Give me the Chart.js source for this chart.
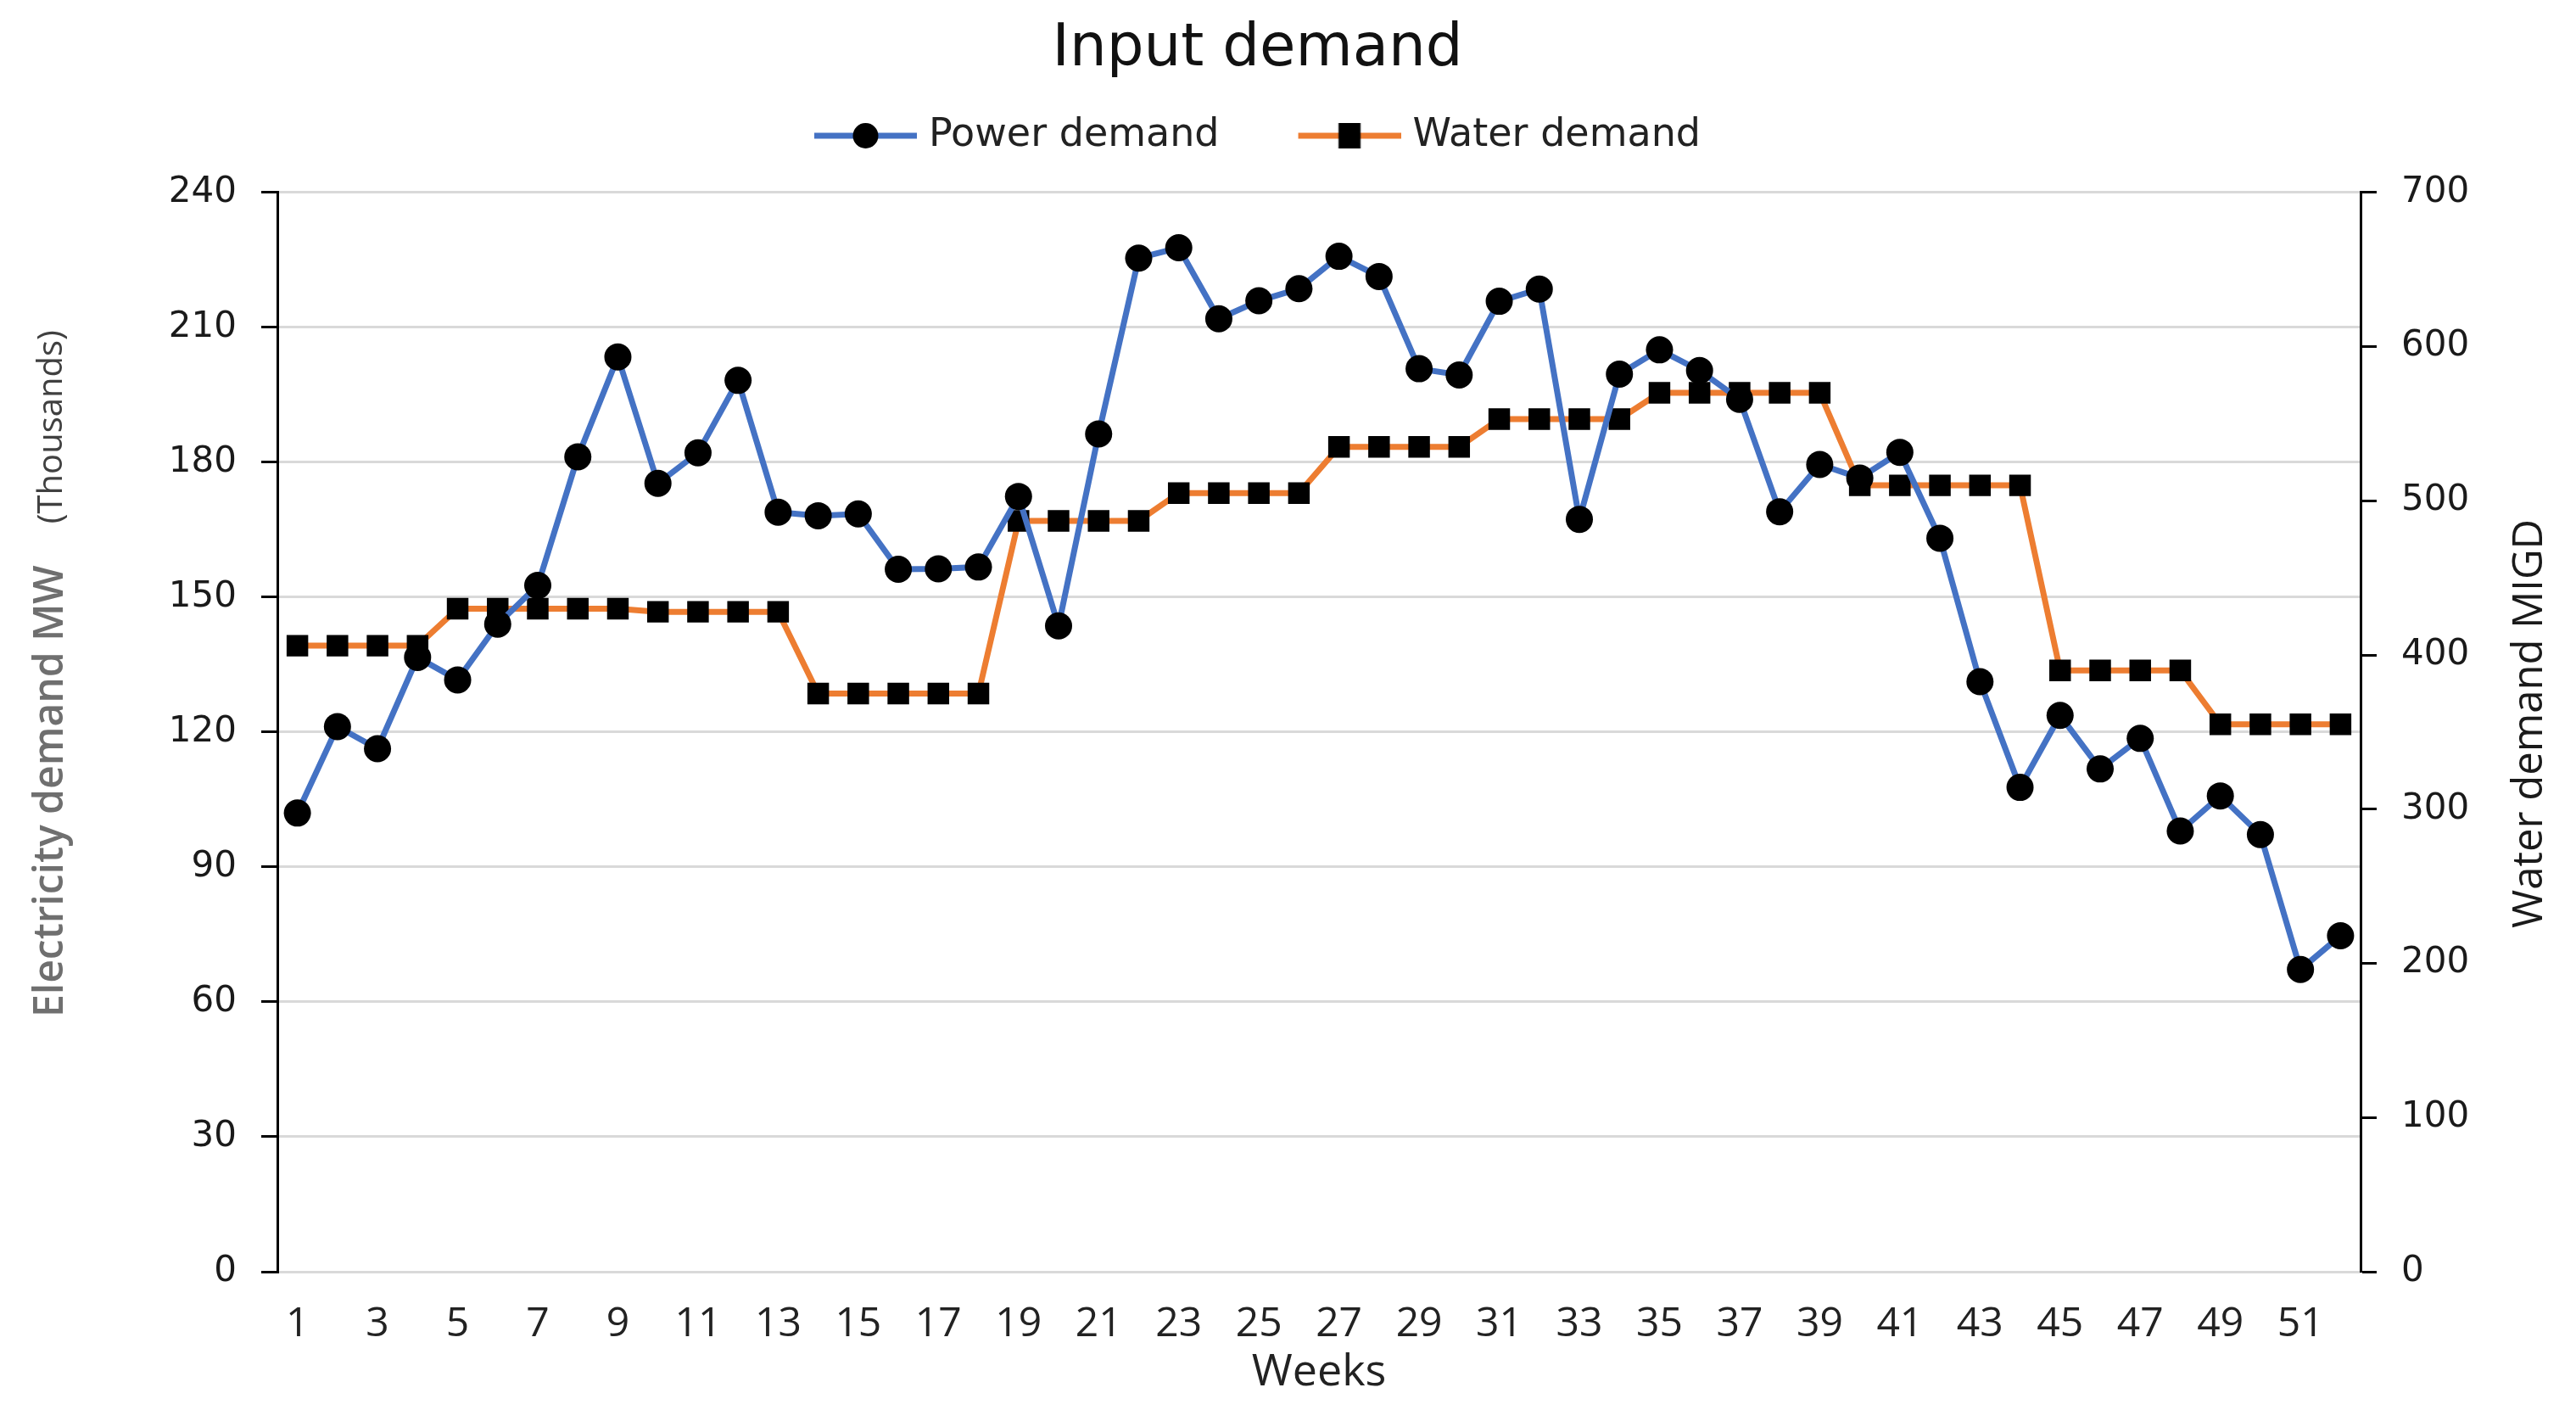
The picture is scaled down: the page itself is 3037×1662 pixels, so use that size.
<!DOCTYPE html>
<html>
<head>
<meta charset="utf-8">
<script src="https://cdn.jsdelivr.net/npm/chart.js@4.4.1/dist/chart.umd.min.js"></script>
<style>
html,body{margin:0;padding:0;background:#ffffff;}
canvas{display:block;}
</style>
</head>
<body>
<canvas id="c" width="3037" height="1662" style="width:3037px;height:1662px"></canvas>
<script>
// ---- data ----
const weeks = [1,2,3,4,5,6,7,8,9,10,11,12,13,14,15,16,17,18,19,20,21,22,23,24,25,26,
               27,28,29,30,31,32,33,34,35,36,37,38,39,40,41,42,43,44,45,46,47,48,49,50,51,52];
const powerDemand = [102,121.2,116.3,136.6,131.6,144,152.6,181.2,203.4,175.3,182.1,198.2,168.9,
                     168.1,168.5,156.2,156.3,156.7,172.4,143.6,186.3,225.4,227.7,211.9,215.9,218.6,
                     225.8,221.3,200.8,199.4,215.8,218.5,167.3,199.6,205,200.4,194,169,179.5,176.5,
                     182.2,163.1,131.2,107.7,123.7,111.8,118.6,98,105.8,97.2,67.2,74.7];
const waterDemand = [406,406,406,406,430,430,430,430,430,428,428,428,428,375,375,375,375,375,
                     487,487,487,487,505,505,505,505,535,535,535,535,553,553,553,553,
                     570,570,570,570,570,510,510,510,510,510,390,390,390,390,355,355,355,355];
const leftTicks = [0,30,60,90,120,150,180,210,240];
const rightTicks = [0,100,200,300,400,500,600,700];
const seriesNames = ['Power demand','Water demand'];
const chartTitle = 'Input demand';
const xTitle = 'Weeks';
const leftTitleMain = 'Electricity demand MW';
const leftTitleUnit = '(Thousands)';
const rightTitle = 'Water demand MIGD';

const BLUE = '#4472C4', ORANGE = '#ED7D31';

// legend marker: line with marker, box width 112, overflowing 9px on each side
function legendMarker(color, shape){
  const w = 130, h = 40;
  const c = document.createElement('canvas');
  c.width = w; c.height = h;
  const g = c.getContext('2d');
  g.strokeStyle = color; g.lineWidth = 7;
  g.beginPath(); g.moveTo(9, h/2); g.lineTo(w, h/2); g.stroke();
  g.fillStyle = '#000';
  const cx = 9 + 121/2;
  if (shape === 'circle'){ g.beginPath(); g.arc(cx, h/2, 15, 0, Math.PI*2); g.fill(); }
  else { g.fillRect(cx-13, h/2-15, 26, 30); }
  return c;
}
const markers = [legendMarker(BLUE,'circle'), legendMarker(ORANGE,'rect')];

const axisTitles = {
  id: 'axisTitles',
  afterDraw(chart){
    const ctx = chart.ctx, a = chart.chartArea;
    ctx.save();
    ctx.translate(60, a.bottom - 300);
    ctx.rotate(-Math.PI/2);
    ctx.textAlign = 'left'; ctx.textBaseline = 'middle';
    ctx.font = '600 48px "Open Sans"';
    ctx.fillStyle = '#6f6f6f';
    ctx.fillText(leftTitleMain, 0, 0);
    const w = ctx.measureText(leftTitleMain).width;
    ctx.font = '40px "Open Sans"';
    ctx.fillStyle = '#404040';
    ctx.fillText(leftTitleUnit, w + 49, 2);
    ctx.restore();

    ctx.save();
    ctx.translate(2983, (a.top + a.bottom)/2 - 10);
    ctx.rotate(-Math.PI/2);
    ctx.textAlign = 'center'; ctx.textBaseline = 'middle';
    ctx.font = '500 49px "Open Sans"';
    ctx.fillStyle = '#1a1a1a';
    ctx.fillText(rightTitle, 0, 0);
    ctx.restore();
  }
};

new Chart(document.getElementById('c'), {
  type: 'line',
  data: {
    labels: weeks,
    datasets: [
      { label: seriesNames[0], data: powerDemand, yAxisID: 'y',
        borderColor: BLUE, backgroundColor: BLUE, borderWidth: 7, tension: 0,
        pointStyle: 'circle', pointRadius: 16, pointBackgroundColor: '#000', pointBorderColor: '#000', pointBorderWidth: 0 },
      { label: seriesNames[1], data: waterDemand, yAxisID: 'y1',
        borderColor: ORANGE, backgroundColor: ORANGE, borderWidth: 7, tension: 0,
        pointStyle: 'rect', pointRadius: 18, pointBackgroundColor: '#000', pointBorderColor: '#000', pointBorderWidth: 0 }
    ]
  },
  options: {
    responsive: false, animation: false, devicePixelRatio: 1,
    layout: { padding: { left: 0, right: 72, top: 0, bottom: 0 } },
    plugins: {
      tooltip: { enabled: false },
      title: { display: true, text: chartTitle, color: '#111',
               font: { family: 'DejaVu Sans', size: 69, weight: 'normal' },
               padding: { top: 18, bottom: -56.8 } },
      subtitle: { display: true, text: '', font: { size: 10 }, padding: { top: 21.8, bottom: 0 }, weight: 1500 },
      legend: { display: true, position: 'top', weight: 1600,
        labels: { usePointStyle: true, pointStyleWidth: 112, color: '#222',
                  font: { family: 'DejaVu Sans', size: 46 }, padding: 93,
                  generateLabels(chart){
                    const items = Chart.defaults.plugins.legend.labels.generateLabels(chart);
                    items.forEach((it, i) => { it.pointStyle = markers[i]; });
                    return items;
                  } } }
    },
    scales: {
      x: {
        type: 'category', offset: true,
        grid: { display: true, drawOnChartArea: false, drawTicks: false },
        border: { display: true, color: '#d9d9d9', width: 3 },
        ticks: { autoSkip: false, maxRotation: 0, minRotation: 0, padding: 34, color: '#222',
                 font: { family: 'Open Sans', size: 48 },
                 callback(v, i){ return i % 2 === 0 ? String(weeks[i]) : ''; } },
        title: { display: true, text: xTitle, color: '#222', font: { family: 'Open Sans', size: 52 },
                 padding: { top: 0, bottom: 13 } },
        afterFit(s){ s.height = 163; }
      },
      y: {
        position: 'left', min: leftTicks[0], max: leftTicks[leftTicks.length-1],
        afterBuildTicks(s){ s.ticks = leftTicks.map(v => ({value: v})); },
        grid: { color: '#d9d9d9', lineWidth: 3, tickColor: '#000', tickLength: 19, tickWidth: 3, drawTicks: true },
        border: { display: true, color: '#000', width: 3 },
        ticks: { padding: 29, color: '#1a1a1a', font: { family: 'DejaVu Sans', size: 42 } },
        afterFit(s){ s.width = 327; }
      },
      y1: {
        position: 'right', min: rightTicks[0], max: rightTicks[rightTicks.length-1],
        afterBuildTicks(s){ s.ticks = rightTicks.map(v => ({value: v})); },
        grid: { drawOnChartArea: false, tickColor: '#000', tickLength: 19, tickWidth: 3, drawTicks: true },
        border: { display: true, color: '#000', width: 3 },
        ticks: { padding: 29, color: '#1a1a1a', font: { family: 'DejaVu Sans', size: 42 } },
        afterFit(s){ s.width = 182; }
      }
    }
  },
  plugins: [axisTitles]
});
</script>
</body>
</html>
